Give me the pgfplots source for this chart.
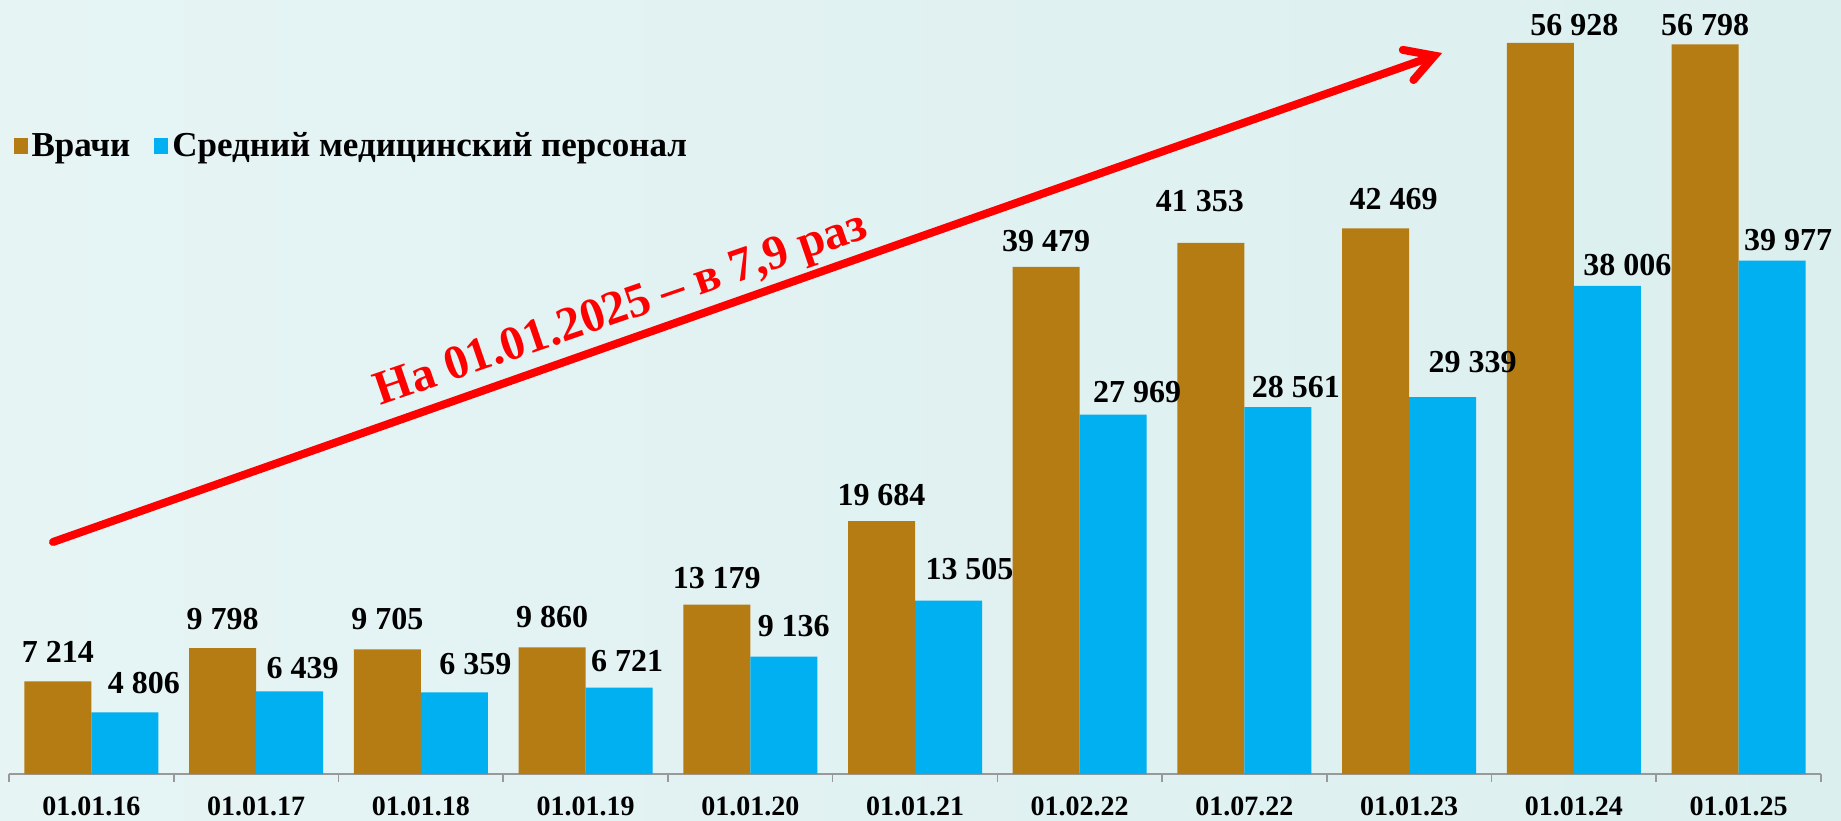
\documentclass[border=0pt]{standalone}
\usepackage{fontspec}
\setmainfont{Liberation Serif}
\usepackage{pgfplots}
\usepackage{pgfplotstable}
\pgfplotsset{compat=1.18}
\usetikzlibrary{arrows.meta}
\definecolor{brownbar}{HTML}{B57C14}
\definecolor{bluebar}{HTML}{00B0F0}
\definecolor{bgc}{HTML}{DCEFEF}
\definecolor{bgd}{HTML}{E6F4F4}
\pgfplotstableread{
x y dx dy
0 7214 0 5.7
1 9798 0 5.7
2 9705 0 6.2
3 9860 0 6.2
4 13179 0 4.2
5 19684 0 4.2
6 39479 0 4.2
7 41353 -5.5 12.2
8 42469 9 5.7
9 56928 17 -0.3
10 56798 0 0.7
}\vrachi
\pgfplotstableread{
x y dx dy
0 4806 9.5 5.7
1 6439 6.5 2.7
2 6359 10.5 5.2
3 6721 4 4.2
4 9136 5 6.2
5 13505 10.5 6.7
6 27969 12 2.2
7 28561 9 1
8 29339 15 8.7
9 38006 10 1.7
10 39977 8 1.2
}\sredni
\begin{document}
\begin{tikzpicture}
\shade[left color=bgd, right color=bgc] (-4.5pt,-23pt) rectangle (916pt,387pt);
\begin{axis}[
  scale only axis, width=906pt, height=387pt,
  xmin=-0.5, xmax=10.5, ymin=0, ymax=60257,
  ybar=0pt, bar width=33.5pt,
  axis x line*=bottom, axis y line=none,
  x axis line style={draw=gray!80, line width=0.8pt},
  xtick={0,...,10},
  xticklabels={01.01.16,01.01.17,01.01.18,01.01.19,01.01.20,01.01.21,01.02.22,01.07.22,01.01.23,01.01.24,01.01.25},
  minor xtick={-0.5,0.5,...,10.5},
  major tick length=0pt, minor tick length=4pt,
  xtick align=outside,
  minor tick style={draw=gray!80, line width=0.8pt},
  xticklabel style={font=\bfseries\fontsize{14}{14}\selectfont, yshift=-8pt},
  nodes near coords,
  every node near coord/.append style={font=\bfseries\fontsize{16}{16}\selectfont, text=black},
  /pgf/number format/.cd, fixed, precision=0, 1000 sep={\ }, assume math mode=true,
  /pgfplots/.cd,
  legend style={at={(rel axis cs:-0.001,0.811)}, anchor=west, draw=none, fill=none,
    legend columns=2, font=\bfseries\fontsize{17.5}{17.5}\selectfont,
    nodes={inner xsep=2pt},
    /tikz/every even column/.append style={column sep=10pt}},
  legend image code/.code={\fill[#1] (0pt,-4pt) rectangle (7pt,4pt);},
  clip=false,
]
\addplot[fill=brownbar, draw=none,
  visualization depends on={\thisrow{dx} \as \mydx},
  visualization depends on={\thisrow{dy} \as \mydy},
  every node near coord/.append style={xshift=\mydx pt, yshift=\mydy pt}]
  table[x=x, y=y] {\vrachi};
\addplot[fill=bluebar, draw=none,
  visualization depends on={\thisrow{dx} \as \mydx},
  visualization depends on={\thisrow{dy} \as \mydy},
  every node near coord/.append style={xshift=\mydx pt, yshift=\mydy pt}]
  table[x=x, y=y] {\sredni};
\legend{Врачи, Средний медицинский персонал}
\draw[red, line width=4pt, line cap=round, -{Straight Barb[length=14pt,width=16pt,line cap=round]}] (axis cs:-0.233,18062) -- (axis cs:8.20,56131);
\node[text=red, font=\bfseries\fontsize{24}{24}\selectfont, rotate=19] at (axis cs:3.22,36045) {На 01.01.2025 – в 7,9 раз};
\end{axis}
\pgfresetboundingbox
\useasboundingbox (-4.5pt,-23pt) rectangle (916pt,387pt);
\end{tikzpicture}
\end{document}
